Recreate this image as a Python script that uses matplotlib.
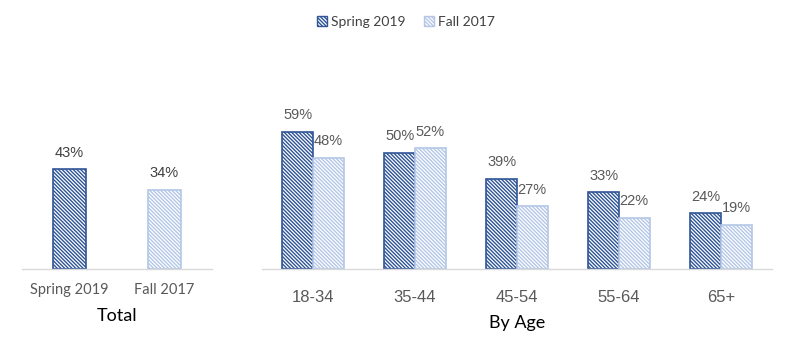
import matplotlib
matplotlib.use("Agg")
import matplotlib.pyplot as plt
from matplotlib.patches import Patch

# Survey results (percent)
total_labels = ["Spring 2019", "Fall 2017"]
total_values = [43, 34]

age_groups = ["18-34", "35-44", "45-54", "55-64", "65+"]
spring_2019 = [59, 50, 39, 33, 24]
fall_2017 = [48, 52, 27, 22, 19]

DARK = "#2F5597"
LIGHT = "#B4C7E7"
AXIS = "#D9D9D9"
LABEL_GRAY = "#595959"
HATCH = "\\" * 9

plt.rcParams["hatch.linewidth"] = 1.0

W, H = 799, 339
fig = plt.figure(figsize=(W / 100, H / 100), dpi=100)

ymax = 200 / 2.32
ax1 = fig.add_axes([22 / W, 70 / H, 190 / W, 200 / H])
ax2 = fig.add_axes([262 / W, 70 / H, 510 / W, 200 / H])

sans_c = ["Lato", "DejaVu Sans"]
sans_a = ["Liberation Sans", "DejaVu Sans"]

# --- Total panel ---
bw1 = 0.34
cols = [DARK, LIGHT]
for i, (lab, v) in enumerate(zip(total_labels, total_values)):
    ax1.bar(i, v, width=bw1, facecolor="white", edgecolor=cols[i],
            hatch=HATCH, linewidth=1.2)
    ax1.annotate(f"{v}%", (i, v), xytext=(0, 7), textcoords="offset points",
                 ha="center", va="bottom", fontsize=10.5, color="#404040",
                 family=sans_a)
ax1.set_xlim(-0.5, 1.5)
ax1.set_xticks(range(len(total_labels)))
ax1.set_xticklabels(total_labels, fontsize=10.5, color=LABEL_GRAY, family=sans_c)
ax1.set_xlabel("Total", fontsize=13, family=sans_c, color="black", labelpad=8)
ax1.tick_params(axis="x", length=0, pad=10)

# --- By Age panel ---
bw2 = 0.3
x = range(len(age_groups))
for i in x:
    for off, vals, c in ((-bw2 / 2, spring_2019, DARK), (bw2 / 2, fall_2017, LIGHT)):
        v = vals[i]
        ax2.bar(i + off, v, width=bw2, facecolor="white", edgecolor=c,
                hatch=HATCH, linewidth=1.2)
        ax2.annotate(f"{v}%", (i + off, v), xytext=(0, 7), textcoords="offset points",
                     ha="center", va="bottom", fontsize=10.5, color=LABEL_GRAY,
                     family=sans_a)
ax2.set_xlim(-0.5, len(age_groups) - 0.5)
ax2.set_xticks(list(x))
ax2.set_xticklabels(age_groups, fontsize=12, color=LABEL_GRAY, family=sans_a)
ax2.set_xlabel("By Age", fontsize=13, family=sans_c, color="black", labelpad=7)
ax2.tick_params(axis="x", length=0, pad=15)

for ax in (ax1, ax2):
    ax.set_ylim(0, ymax)
    ax.set_yticks([])
    for s in ("top", "left", "right"):
        ax.spines[s].set_visible(False)
    ax.spines["bottom"].set_color(AXIS)
    ax.spines["bottom"].set_linewidth(1.0)

handles = [
    Patch(facecolor="white", edgecolor=DARK, hatch=HATCH, label="Spring 2019"),
    Patch(facecolor="white", edgecolor=LIGHT, hatch=HATCH, label="Fall 2017"),
]
fig.legend(handles=handles, loc="upper center", bbox_to_anchor=(0.508, 0.99),
           ncol=2, frameon=False, handlelength=0.75, handleheight=0.75,
           handletextpad=0.3, columnspacing=1.3,
           prop={"family": sans_c, "size": 10}, labelcolor="#404040")

fig.savefig("out.png", dpi=100, facecolor="white")
